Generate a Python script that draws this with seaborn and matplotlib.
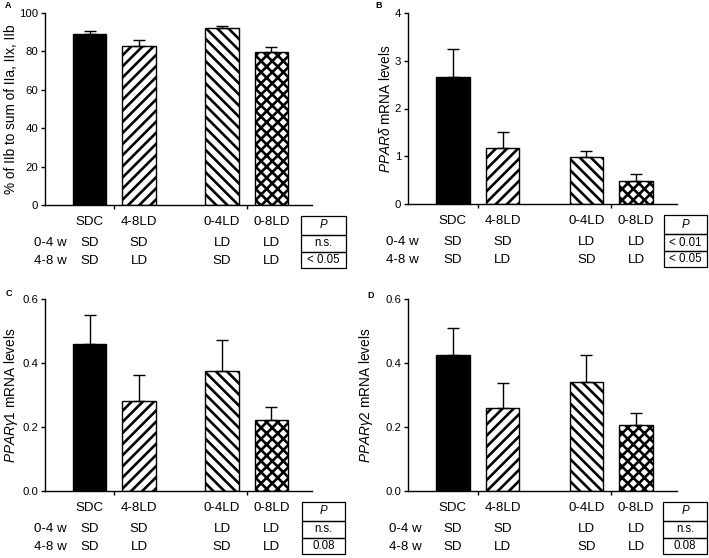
import matplotlib
matplotlib.use("Agg")
import matplotlib.pyplot as plt
from matplotlib.patches import Rectangle
from matplotlib.ticker import FormatStrFormatter
import numpy as np
import pandas as pd
import seaborn as sns

# groups and light regimes
GROUPS = ["SDC", "4-8LD", "0-4LD", "0-8LD"]
WEEKS_0_4 = ["SD", "SD", "LD", "LD"]
WEEKS_4_8 = ["SD", "LD", "SD", "LD"]
ROW_LABELS = ["0-4 w", "4-8 w"]

# means and upper error (SEM)
FIBRE_MEAN = [89.0, 82.6, 92.0, 79.5]
FIBRE_SEM = [1.4, 3.5, 1.0, 2.8]
DELTA_MEAN = [2.67, 1.17, 0.99, 0.49]
DELTA_SEM = [0.58, 0.33, 0.13, 0.13]
GAMMA1_MEAN = [0.459, 0.282, 0.376, 0.223]
GAMMA1_SEM = [0.091, 0.082, 0.096, 0.040]
GAMMA2_MEAN = [0.425, 0.260, 0.340, 0.207]
GAMMA2_SEM = [0.083, 0.076, 0.086, 0.037]

P_FIBRE = ["n.s.", "< 0.05"]
P_DELTA = ["< 0.01", "< 0.05"]
P_GAMMA1 = ["n.s.", "0.08"]
P_GAMMA2 = ["n.s.", "0.08"]

FIBRE_TICKS = [0, 20, 40, 60, 80, 100]
DELTA_TICKS = [0, 1, 2, 3, 4]
GAMMA_TICKS = [0.0, 0.2, 0.4, 0.6]

# layout (pixels of a 709x558 canvas)
W, H = 709, 558
BAR_POS = [0, 1, 2.68, 3.68]
GROUP_TICKS = [0.5, 3.18]
FACES = ["black", "white", "white", "white"]
HATCHES = ["", "///", "\\\\\\", "xxx"]
HATCH_LW = 1.9
FS_TEXT = 9.6
FS_TICK = 8.2
FS_LABEL = 9.8
FS_TABLE = 8.3
PT = 0.72  # points per pixel at dpi 100

sns.set_style("ticks", {"axes.edgecolor": "black", "text.color": "black",
                        "xtick.color": "black", "ytick.color": "black",
                        "axes.labelcolor": "black"})
plt.rcParams["font.family"] = ["Liberation Sans", "DejaVu Sans"]
plt.rcParams["mathtext.fontset"] = "custom"
plt.rcParams["mathtext.rm"] = "Liberation Sans"
plt.rcParams["mathtext.it"] = "Liberation Sans:italic"
plt.rcParams["hatch.linewidth"] = HATCH_LW
plt.rcParams["axes.linewidth"] = 1.0

PANELS = [
    dict(letter="A", letter_xy=(8.5, 5), box=(45, 13, 312, 205),
         ylabel="% of IIb to sum of IIa, IIx, IIb", ylab_x=-0.101,
         mean=FIBRE_MEAN, sem=FIBRE_SEM, ticks=FIBRE_TICKS, fmt="%d",
         p=P_FIBRE, row_dx=5, table=(301, 346)),
    dict(letter="B", letter_xy=(379, 5), box=(408, 13, 677, 204),
         ylabel=r"$\mathit{PPAR\delta}$ mRNA levels", ylab_x=-0.056,
         mean=DELTA_MEAN, sem=DELTA_SEM, ticks=DELTA_TICKS, fmt="%d",
         p=P_DELTA, row_dx=-6, table=(664, 707)),
    dict(letter="C", letter_xy=(8.5, 293), box=(45, 299, 312, 491),
         ylabel=r"$\mathit{PPAR\gamma1}$ mRNA levels", ylab_x=-0.094,
         mean=GAMMA1_MEAN, sem=GAMMA1_SEM, ticks=GAMMA_TICKS, fmt="%.1f",
         p=P_GAMMA1, row_dx=5, table=(302, 345)),
    dict(letter="D", letter_xy=(371, 295), box=(408, 299, 677, 491),
         ylabel=r"$\mathit{PPAR\gamma2}$ mRNA levels", ylab_x=-0.123,
         mean=GAMMA2_MEAN, sem=GAMMA2_SEM, ticks=GAMMA_TICKS, fmt="%.1f",
         p=P_GAMMA2, row_dx=-3, table=(663, 707)),
]


def draw_panel(fig, spec):
    left, top, right, bottom = spec["box"]
    ax_w, ax_h = right - left, bottom - top
    ax = fig.add_axes([left / W, 1 - bottom / H, ax_w / W, ax_h / H])

    frame = pd.DataFrame({"pos": BAR_POS, "value": spec["mean"]})
    sns.barplot(data=frame, x="pos", y="value", native_scale=True, width=0.67,
                color="white", edgecolor="black", linewidth=1, errorbar=None, ax=ax)
    for patch, face, hatch in zip(ax.patches, FACES, HATCHES):
        patch.set_facecolor(face)
        patch.set_hatch(hatch)
        if hasattr(patch, "set_hatch_linewidth"):
            patch.set_hatch_linewidth(HATCH_LW)
    ax.errorbar(BAR_POS, spec["mean"], yerr=[np.zeros(len(BAR_POS)), spec["sem"]],
                fmt="none", ecolor="black", elinewidth=1, capsize=4, capthick=1)

    ticks = spec["ticks"]
    ax.set_xlim(-0.9, 4.5)
    ax.set_ylim(ticks[0], ticks[-1])
    ax.set_yticks(ticks)
    ax.yaxis.set_major_formatter(FormatStrFormatter(spec["fmt"]))
    ax.set_xticks(GROUP_TICKS)
    ax.set_xticklabels([])
    ax.set_xlabel("")
    ax.tick_params(direction="out", length=3, width=1, labelsize=FS_TICK, pad=2)
    sns.despine(ax=ax)
    ax.set_ylabel(spec["ylabel"], fontsize=FS_LABEL)
    ax.yaxis.set_label_coords(spec["ylab_x"], 0.5)

    # group names and light regime rows
    rows = [(GROUPS, 17), (WEEKS_0_4, 38), (WEEKS_4_8, 56)]
    for labels, dy in rows:
        for pos, text in zip(BAR_POS, labels):
            ax.annotate(text, xy=(pos, 0), xycoords=("data", "axes fraction"),
                        xytext=(0, -dy * PT), textcoords="offset points",
                        ha="center", va="center", fontsize=FS_TEXT,
                        annotation_clip=False)
    for text, dy in zip(ROW_LABELS, [38, 56]):
        ax.annotate(text, xy=(0, 0), xycoords="axes fraction",
                    xytext=(spec["row_dx"] * PT, -dy * PT), textcoords="offset points",
                    ha="center", va="center", fontsize=FS_TEXT, annotation_clip=False)

    # P value box
    x0, x1 = spec["table"]
    fx0, fx1 = (x0 - left) / ax_w, (x1 - left) / ax_w
    edges = [11, 30, 47, 63]
    cells = ["P"] + spec["p"]
    for i, text in enumerate(cells):
        y_top, y_bot = -edges[i] / ax_h, -edges[i + 1] / ax_h
        ax.add_patch(Rectangle((fx0, y_bot), fx1 - fx0, y_top - y_bot,
                               transform=ax.transAxes, fill=False,
                               edgecolor="black", linewidth=0.9, clip_on=False))
        ax.text((fx0 + fx1) / 2, (y_top + y_bot) / 2, text, transform=ax.transAxes,
                ha="center", va="center", fontsize=FS_TABLE,
                fontstyle="italic" if i == 0 else "normal")

    lx, ly = spec["letter_xy"]
    fig.text(lx / W, 1 - ly / H, spec["letter"], fontsize=6.5, fontweight="bold",
             ha="center", va="center")
    return ax


fig = plt.figure(figsize=(W / 100, H / 100), dpi=100)
for spec in PANELS:
    draw_panel(fig, spec)
fig.savefig("out.png", dpi=100)
